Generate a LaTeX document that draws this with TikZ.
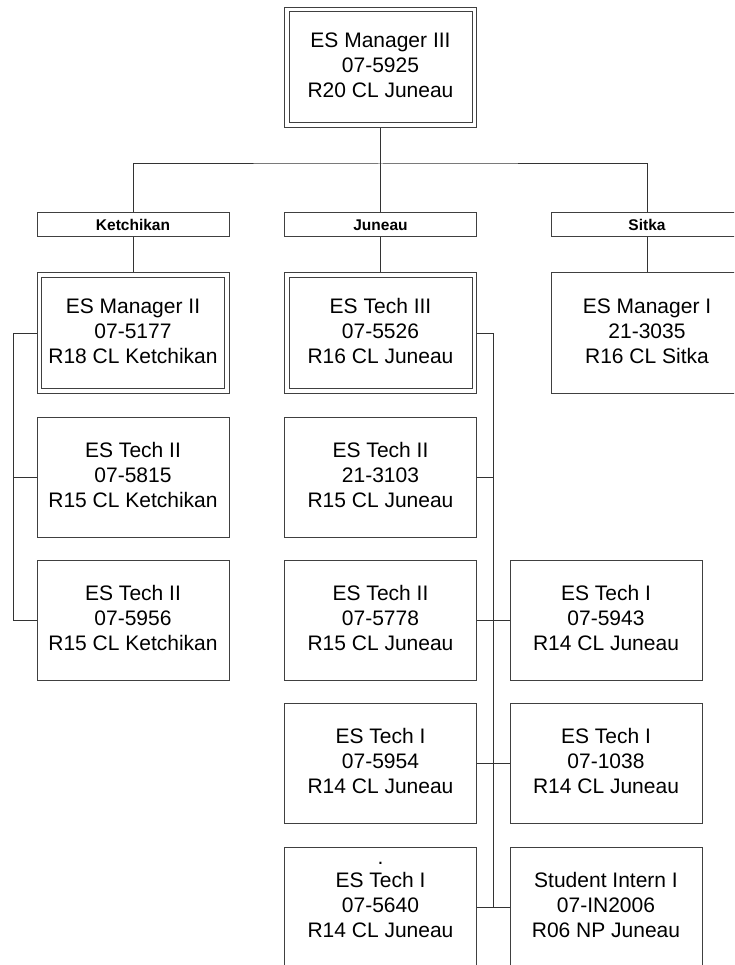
\documentclass[tikz,border=0pt]{standalone}
\usepackage{fontspec}
\setmainfont{Liberation Sans}
\usetikzlibrary{backgrounds}
\newcommand{\boxtext}[3]{\strut #1\\\strut #2\\\strut #3}
\begin{document}
\begin{tikzpicture}[x=1pt,y=-1pt,
  box/.style={draw=black!75, line width=1pt, fill=white, minimum width=192pt, minimum height=120pt, inner sep=0pt, align=center, font=\fontsize{21}{25}\selectfont},
  dbox/.style={box, double=white, double distance=3.5pt, minimum width=187.5pt, minimum height=115.5pt},
  hdr/.style={draw=black!75, line width=1pt, fill=white, minimum width=192pt, minimum height=24pt, inner sep=0pt, font=\fontsize{15.5}{18}\selectfont\bfseries},
  conn/.style={draw=black!80, line width=1pt}]
\useasboundingbox (0,0) rectangle (734,965);
\clip (0,0) rectangle (734,965);
% nodes
\node[dbox] (m3) at (380.5,67.5) {\boxtext{ES Manager III}{07-5925}{R20 CL Juneau}};
\node[hdr] (hk) at (133,225) {Ketchikan};
\node[hdr] (hj) at (380.5,225) {Juneau};
\node[hdr] (hs) at (647,225) {Sitka};
\node[dbox] (m2) at (133,333) {\boxtext{ES Manager II}{07-5177}{R18 CL Ketchikan}};
\node[dbox] (t3) at (380.5,333) {\boxtext{ES Tech III}{07-5526}{R16 CL Juneau}};
\node[box] (m1) at (647,333) {\boxtext{ES Manager I}{21-3035}{R16 CL Sitka}};
\node[box] (k5815) at (133,477) {\boxtext{ES Tech II}{07-5815}{R15 CL Ketchikan}};
\node[box] (k5956) at (133,620) {\boxtext{ES Tech II}{07-5956}{R15 CL Ketchikan}};
\node[box] (j3103) at (380.5,477) {\boxtext{ES Tech II}{21-3103}{R15 CL Juneau}};
\node[box] (j5778) at (380.5,620) {\boxtext{ES Tech II}{07-5778}{R15 CL Juneau}};
\node[box] (j5943) at (606,620) {\boxtext{ES Tech I}{07-5943}{R14 CL Juneau}};
\node[box] (j5954) at (380.5,763.5) {\boxtext{ES Tech I}{07-5954}{R14 CL Juneau}};
\node[box] (j1038) at (606,763.5) {\boxtext{ES Tech I}{07-1038}{R14 CL Juneau}};
\node[box] (j5640) at (380.5,907.5) {\boxtext{ES Tech I}{07-5640}{R14 CL Juneau}};
\node[box] (j2006) at (606,907.5) {\boxtext{Student Intern I}{07-IN2006}{R06 NP Juneau}};
\node[anchor=base, inner sep=0pt, font=\fontsize{21}{25}\selectfont] (dot5640) at ([yshift=43.5pt]j5640.center) {.};
% connectors
\begin{scope}[on background layer]
\coordinate (bus) at (380.5,164);
\draw[conn] (m3.south) -- (hj.north);
\draw[conn] (hk.north) |- (bus) -| (hs.north);
\draw[conn] (hk.south) -- (m2.north);
\draw[conn] (hj.south) -- (t3.north);
\draw[conn] (hs.south) -- (m1.north);
\coordinate (kl) at (13.3,333);
\draw[conn] (m2.west) -- (kl) |- (k5956.west);
\draw[conn] (kl |- k5815.west) -- (k5815.west);
\coordinate (jr) at (493.3,333);
\draw[conn] (t3.east) -- (jr) -- (jr |- j2006.west);
\draw[conn] (j3103.east) -- (j3103.east -| jr);
\draw[conn] (j5778.east) -- (j5943.west);
\draw[conn] (j5954.east) -- (j1038.west);
\draw[conn] (j5640.east) -- (j2006.west);
\end{scope}
\end{tikzpicture}
\end{document}
